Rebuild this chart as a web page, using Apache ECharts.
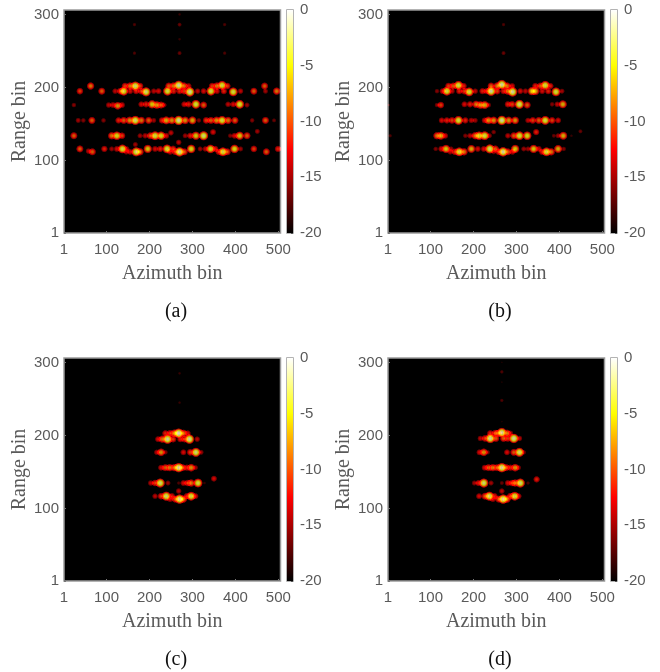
<!DOCTYPE html>
<html>
<head>
<meta charset="utf-8">
<style>html,body{margin:0;padding:0;background:#fff}#c{width:660px;height:672px}</style>
<script src="https://cdn.jsdelivr.net/npm/echarts@6/dist/echarts.min.js"></script>
</head>
<body>
<div id="c"></div>
<script>
// Tick labels
var azimuthTicks = [1, 100, 200, 300, 400, 500];
var rangeTicks = [1, 100, 200, 300];
var dbTicks = [0, -5, -10, -15, -20];
var captions = ['(a)', '(b)', '(c)', '(d)'];

// Each peak: [azimuth bin, range bin, level in dB]
var peaksA = [
  [63,202,-8],[143,202,-10],[155,202,-8],[167,202,-2],[178,202,-10],[245,202,-9],[256,202,-8],[268,203,-1],[280,202,-8],[291,202,-12],[346,202,-10],[357,202,-8],[369,203,-3],[381,202,-10],[468,202,-9],
  [38,195,-10],[89,195,-9],[120,195,-13],[132,195,-10],[140,195,-3],[155,195,-12],[169,195,-11],[181,195,-10],[192,194,-2],[210,195,-13],[221,195,-12],[242,195,-3],[256,195,-11],[270,195,-11],[281,195,-10],[294,194,-1],[312,195,-13],[326,195,-12],[343,195,-3],[357,195,-12],[373,195,-11],[395,194,-3],[412,195,-13],[443,195,-9],[470,195,-14],[496,195,-8],
  [24,176,-15],[105,176,-13],[115,176,-12],[126,175,-7],[136,176,-12],[181,177,-12],[192,177,-11],[206,177,-5],[217,176,-7],[227,176,-9],[234,176,-14],[281,177,-12],[291,177,-11],[308,177,-3],[326,176,-9],[383,177,-13],[395,177,-12],[410,177,-3],[427,176,-14],
  [34,155,-14],[46,155,-15],[66,155,-9],[93,155,-15],[128,155,-11],[140,155,-9],[154,155,-7],[167,155,-2],[181,155,-8],[198,155,-9],[210,155,-14],[229,155,-11],[239,155,-6],[252,155,-7],[268,155,-1],[283,155,-7],[300,155,-6],[315,155,-15],[332,155,-10],[343,155,-9],[356,155,-7],[369,155,-3],[383,155,-8],[399,155,-9],[439,155,-15],[470,155,-9],[490,155,-16],
  [24,134,-9],[112,134,-8],[124,134,-4],[136,134,-10],[178,134,-14],[190,134,-13],[202,134,-9],[213,134,-3],[227,134,-4],[239,134,-12],[250,138,-13],[283,134,-14],[295,134,-11],[308,134,-5],[326,134,-2],[348,139,-12],[388,134,-15],[398,134,-12],[410,134,-5],[427,134,-9],[451,140,-14],
  [38,116,-9],[95,116,-11],[112,116,-14],[124,116,-12],[137,116,-3],[147,116,-13],[196,116,-5],[213,116,-12],[225,116,-11],[241,116,-3],[255,116,-10],[297,116,-4],[318,116,-14],[330,116,-13],[342,116,-4],[353,116,-11],[398,116,-4],[412,116,-14],[443,116,-10],[499,116,-11],
  [58,113,-13],[67,112,-9],[146,112,-13],[155,112,-12],[169,112,-2],[178,112,-8],[248,112,-12],[260,112,-10],[270,112,-1],[281,112,-9],[361,112,-11],[371,112,-3],[381,112,-9],[472,112,-9],[167,122,-14],[268,125,-13],
  [165,286,-17],[270,286,-16],[375,286,-17],[165,247,-17],[270,247,-16],[375,247,-17],[270,300,-18],[270,266,-18]
];
var peaksB = [
  [142,202,-10],[153,202,-9],[165,203,-3],[177,202,-11],[241,202,-9],[255,202,-8],[266,204,-1],[278,202,-8],[290,202,-12],[344,202,-11],[356,202,-9],[367,203,-3],[379,202,-11],
  [115,195,-15],[128,195,-12],[138,195,-3],[150,195,-13],[167,195,-11],[179,195,-10],[190,194,-3],[204,195,-13],[221,195,-11],[231,195,-11],[241,195,-1],[255,195,-10],[270,195,-11],[280,195,-8],[291,194,-1],[309,195,-12],[321,195,-13],[336,195,-5],[344,195,-6],[360,195,-12],[374,195,-11],[392,194,-3],[406,195,-14],
  [3,176,-18],[115,176,-15],[124,176,-10],[179,177,-12],[192,177,-11],[206,177,-8],[216,176,-7],[226,176,-6],[235,176,-14],[280,177,-11],[290,177,-10],[307,177,-2],[325,176,-9],[383,177,-15],[395,177,-13],[408,177,-6],
  [126,155,-12],[138,155,-11],[150,155,-10],[165,155,-3],[181,155,-11],[195,155,-13],[204,155,-14],[226,155,-12],[235,155,-7],[247,155,-7],[266,155,-1],[282,155,-7],[297,155,-7],[327,155,-13],[338,155,-10],[352,155,-9],[367,155,-3],[383,155,-10],[397,155,-12],
  [6,134,-17],[115,134,-8],[124,134,-6],[134,134,-12],[181,134,-15],[192,134,-13],[204,134,-8],[213,134,-4],[226,134,-3],[237,134,-14],[247,139,-15],[280,134,-13],[294,134,-9],[307,134,-3],[325,134,-4],[346,139,-11],[387,134,-16],[397,134,-14],[409,134,-6],[428,134,-18],[449,140,-16],
  [112,116,-15],[125,116,-12],[136,116,-5],[148,116,-14],[195,116,-6],[210,116,-12],[224,116,-12],[238,116,-2],[251,116,-9],[297,116,-5],[317,116,-14],[327,116,-14],[340,116,-5],[352,116,-12],[397,116,-6],[410,116,-15],
  [146,112,-13],[157,112,-10],[167,112,-3],[178,112,-8],[247,112,-14],[259,112,-10],[269,112,-1],[280,112,-9],[291,112,-12],[360,112,-11],[370,112,-3],[381,112,-8],
  [270,286,-17],[270,247,-16]
];
var peaksC = [
  [237,203,-11],[248,203,-10],[258,203,-7],[268,203,0],[279,203,-8],[289,203,-12],
  [220,195,-12],[230,195,-8],[242,195,-1],[255,195,-10],[272,195,-11],[282,195,-10],[293,195,-1],[311,195,-13],
  [217,177,-13],[227,177,-7],[237,177,-15],[279,177,-12],[295,177,-10],[308,177,-2],[320,177,-14],
  [227,156,-12],[237,156,-9],[247,156,-8],[258,156,-8],[268,156,-1],[277,156,-9],[287,156,-11],[297,156,-7],[307,156,-14],
  [203,135,-13],[213,135,-10],[225,135,-2],[243,135,-14],[268,135,-17],[279,135,-12],[289,135,-10],[297,135,-8],[313,135,-3],[328,135,-18],[350,141,-12],
  [213,117,-13],[227,117,-10],[239,117,-2],[252,117,-11],[287,117,-11],[297,117,-3],[307,117,-12],
  [248,113,-12],[260,113,-9],[270,113,-1],[279,113,-8],[268,124,-13],
  [270,285,-18],[270,245,-18]
];
var peaksD = [
  [239,203,-11],[251,203,-9],[257,203,-9],[266,204,-1],[278,203,-8],[286,203,-13],
  [216,196,-13],[227,196,-10],[239,196,-1],[252,196,-9],[270,196,-9],[280,196,-10],[294,196,-1],[307,196,-13],
  [214,177,-12],[224,177,-7],[233,177,-15],[278,177,-12],[294,177,-9],[307,177,-2],[317,177,-15],
  [226,156,-12],[235,156,-9],[245,156,-8],[255,156,-9],[266,156,-1],[276,156,-9],[286,156,-11],[297,156,-7],[305,156,-14],
  [202,135,-14],[212,135,-11],[224,135,-2],[241,135,-14],[266,135,-16],[280,135,-12],[290,135,-10],[297,135,-8],[309,135,-2],[327,135,-17],[347,140,-11],
  [213,117,-12],[227,117,-9],[237,117,-2],[249,117,-11],[286,117,-10],[296,117,-3],[305,117,-12],
  [245,113,-12],[259,113,-9],[269,113,-1],[278,113,-8],[266,124,-13],
  [266,287,-17],[266,273,-19],[266,248,-17],[266,300,-19],[266,219,-19]
];
var panelPeaks = [peaksA, peaksB, peaksC, peaksD];

// Layout of the panels
var panelLeft = [64, 388, 64, 388];
var panelTop = [10, 10, 358, 358];
var plotW = 216.5, plotH = 223, barGap = 6.5, barW = 6;
var GREY = '#5a5a5a', EDGE = '#9a9a9a';
var MIN_DB = -20, MAX_DB = 0;

function clamp(x) { return Math.max(0, Math.min(1, x)); }
// MATLAB "hot" colour map, t in 0..1
function hot(t) {
  var r = clamp(t / 0.375), g = clamp((t - 0.375) / 0.375), b = clamp((t - 0.75) / 0.25);
  return 'rgb(' + Math.round(r * 255) + ',' + Math.round(g * 255) + ',' + Math.round(b * 255) + ')';
}
// Round blob falling off from the peak level to -20 dB
var FALL = 0.68; // dB per px^2
function blob(p) {
  var drop = p[2] - MIN_DB;
  var R = Math.sqrt(drop / FALL);
  var stops = [];
  for (var i = 0; i <= 8; i++) {
    var f = i / 8;
    var db = p[2] - FALL * R * R * f * f;
    stops.push({ offset: f, color: i === 8 ? 'rgba(0,0,0,0)' : hot((db - MIN_DB) / (MAX_DB - MIN_DB)) });
  }
  return {
    value: [p[0], p[1]],
    symbolSize: 2 * R,
    itemStyle: { color: { type: 'radial', x: 0.5, y: 0.5, r: 0.5, colorStops: stops } }
  };
}
var barStops = [];
for (var s = 0; s <= 40; s++) barStops.push({ offset: s / 40, color: hot(1 - s / 40) });

var grids = [], xAxes = [], yAxes = [], series = [], graphics = [];
panelPeaks.forEach(function (peaks, i) {
  var L = panelLeft[i], T = panelTop[i];
  grids.push({ left: L, top: T, width: plotW, height: plotH, show: true, backgroundColor: '#000', borderColor: EDGE, borderWidth: 1.5 });
  xAxes.push({
    gridIndex: grids.length - 1, type: 'value', min: 1, max: 505,
    splitLine: { show: false }, axisLine: { show: false },
    axisTick: { show: true, inside: true, length: 2, customValues: azimuthTicks, lineStyle: { color: '#777' } },
    axisLabel: { customValues: azimuthTicks, color: GREY, fontFamily: 'Liberation Sans', fontSize: 15, margin: 9 },
    name: 'Azimuth bin', nameLocation: 'middle', nameGap: 31,
    nameTextStyle: { color: GREY, fontFamily: 'Liberation Serif', fontSize: 20 }
  });
  yAxes.push({
    gridIndex: grids.length - 1, type: 'value', min: 1, max: 306,
    splitLine: { show: false }, axisLine: { show: false },
    axisTick: { show: true, inside: true, length: 2, customValues: rangeTicks, lineStyle: { color: '#777' } },
    axisLabel: { customValues: rangeTicks, color: GREY, fontFamily: 'Liberation Sans', fontSize: 15, margin: 5, padding: [2, 0, 0, 0] },
    name: 'Range bin', nameLocation: 'middle', nameGap: 28,
    nameTextStyle: { color: GREY, fontFamily: 'Liberation Serif', fontSize: 20 }
  });
  series.push({
    type: 'scatter', xAxisIndex: xAxes.length - 1, yAxisIndex: yAxes.length - 1,
    silent: true, animation: false, clip: true, blendMode: 'lighter', symbol: 'circle', large: false, z: 2,
    data: peaks.map(blob)
  });

  // Colour bar
  grids.push({ left: L + plotW + barGap, top: T, width: barW, height: plotH, show: true, backgroundColor: '#000', borderColor: EDGE, borderWidth: 1.5 });
  xAxes.push({ gridIndex: grids.length - 1, type: 'category', data: ['dB'], axisLine: { show: false }, axisTick: { show: false }, axisLabel: { show: false } });
  yAxes.push({
    gridIndex: grids.length - 1, type: 'value', position: 'right', min: MIN_DB, max: MAX_DB, interval: 5,
    splitLine: { show: false }, axisLine: { show: false },
    axisTick: { show: true, inside: true, length: 2, lineStyle: { color: '#555' } },
    axisLabel: { color: GREY, fontFamily: 'Liberation Sans', fontSize: 15, margin: 7, padding: [5, 0, 0, 0], customValues: dbTicks }
  });
  series.push({
    type: 'bar', xAxisIndex: xAxes.length - 1, yAxisIndex: yAxes.length - 1,
    silent: true, animation: false, barWidth: '100%', z: 2,
    data: [MIN_DB],
    itemStyle: { color: { type: 'linear', x: 0, y: 0, x2: 0, y2: 1, colorStops: barStops } }
  });

  graphics.push({
    type: 'text', x: L + 112, y: T + 302,
    style: { text: captions[i], fill: '#111', font: '20px "Liberation Serif"', textAlign: 'center', textVerticalAlign: 'middle' }
  });
});

var chart = echarts.init(document.getElementById('c'), null, { renderer: 'canvas' });
chart.setOption({
  animation: false,
  backgroundColor: '#fff',
  grid: grids, xAxis: xAxes, yAxis: yAxes, series: series, graphic: graphics
});
</script>
</body>
</html>
